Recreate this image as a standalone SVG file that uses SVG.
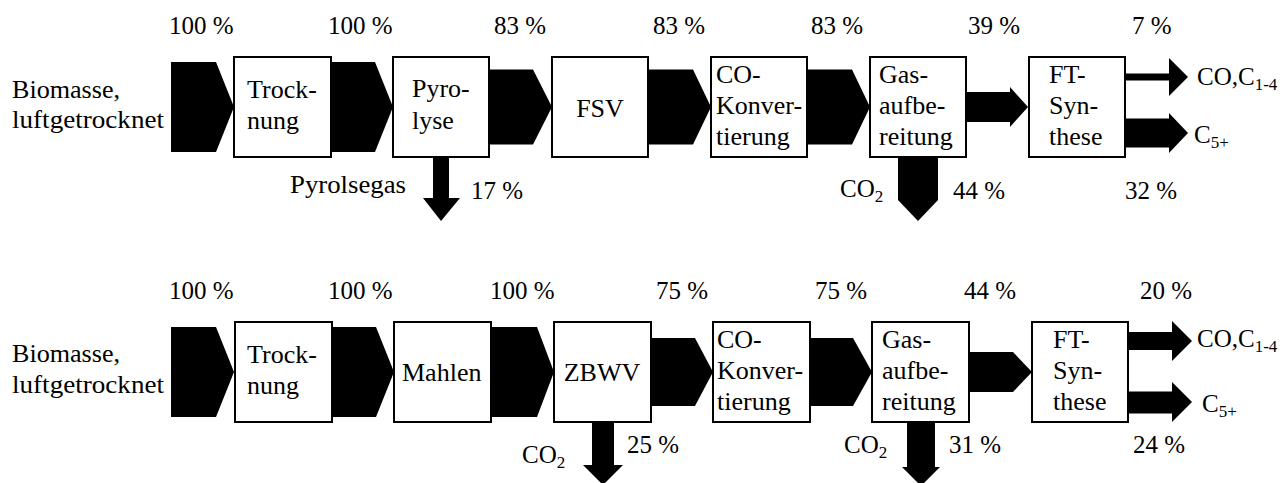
<svg xmlns="http://www.w3.org/2000/svg" width="1287" height="483" viewBox="0 0 1287 483" font-family="'Liberation Serif', 'Times New Roman', 'DejaVu Serif', serif">
<style>
text{font-family:"Liberation Serif","Times New Roman","DejaVu Serif",serif;font-size:25px;fill:#000}
.sub{font-size:17px}
.box{fill:#fff;stroke:#000;stroke-width:2}
.bt{font-size:26px}
.flow{fill:#000;stroke:none}
.c{text-anchor:middle}
</style>
<rect width="1287" height="483" fill="#fff"/>
<g id="connectors">
<polygon class="flow" points="171,62 216,62 234,107 216,152 171,152"/>
<polygon class="flow" points="331,62 375,62 393,107 375,152 331,152"/>
<polygon class="flow" points="489,69.5 533,69.5 552,107 533,144.5 489,144.5"/>
<polygon class="flow" points="648,69.5 693,69.5 711,107 693,144.5 648,144.5"/>
<polygon class="flow" points="807,69.5 852,69.5 870,107 852,144.5 807,144.5"/>
<polygon class="flow" points="966,92 1010,92 1010,87 1028,107 1010,127 1010,122 966,122"/>
<polygon class="flow" points="1125,73.5 1169,73.5 1169,58 1188,77 1169,96 1169,80.5 1125,80.5"/>
<polygon class="flow" points="1125,118.5 1169,118.5 1169,113 1188,133 1169,153 1169,147.5 1125,147.5"/>
<polygon class="flow" points="433,157 449,157 449,198 460,198 441,221 423,198 433,198"/>
<polygon class="flow" points="898,157 938,157 938,200 918,221 898,200"/>
<polygon class="flow" points="171,327 216,327 234,372 216,417 171,417"/>
<polygon class="flow" points="332,327 376,327 394,372 376,417 332,417"/>
<polygon class="flow" points="491,327 537,327 554,372 537,417 491,417"/>
<polygon class="flow" points="651,338 695,338 713,372 695,406 651,406"/>
<polygon class="flow" points="810,338 853,338 872,372 853,406 810,406"/>
<polygon class="flow" points="969,352 1013,352 1032,372 1013,392 969,392"/>
<polygon class="flow" points="1128,332 1172,332 1172,321 1192,341 1172,361 1172,350 1128,350"/>
<polygon class="flow" points="1128,391.5 1172,391.5 1172,382 1192,402 1172,422 1172,413.5 1128,413.5"/>
<polygon class="flow" points="592,422 614,422 614,465 623,465 603,485 583,465 592,465"/>
<polygon class="flow" points="907,422 935,422 935,467 940,467 921,486 902,467 907,467"/>
</g>
<g id="labels">
<text class="bt" x="12" y="98" textLength="108" lengthAdjust="spacingAndGlyphs">Biomasse,</text>
<text class="bt" x="12" y="128" textLength="152" lengthAdjust="spacingAndGlyphs">luftgetrocknet</text>
<text class="bt" x="12" y="362" textLength="108" lengthAdjust="spacingAndGlyphs">Biomasse,</text>
<text class="bt" x="12" y="393" textLength="152" lengthAdjust="spacingAndGlyphs">luftgetrocknet</text>
<text x="169" y="34">100 %</text>
<text x="328" y="34">100 %</text>
<text x="494" y="34">83 %</text>
<text x="653" y="34">83 %</text>
<text x="811" y="34">83 %</text>
<text x="968" y="34">39 %</text>
<text x="1132" y="34">7 %</text>
<text x="290" y="193" textLength="116" lengthAdjust="spacingAndGlyphs">Pyrolsegas</text>
<text x="471" y="199">17 %</text>
<text x="840" y="197">CO<tspan class="sub" dy="5">2</tspan></text>
<text x="953" y="199">44 %</text>
<text x="1125" y="199">32 %</text>
<text x="1197" y="85">CO,C<tspan class="sub" dy="5">1-4</tspan></text>
<text x="1194" y="143">C<tspan class="sub" dy="5">5+</tspan></text>
<text x="169" y="299">100 %</text>
<text x="328" y="299">100 %</text>
<text x="490" y="299">100 %</text>
<text x="656" y="299">75 %</text>
<text x="815" y="299">75 %</text>
<text x="964" y="299">44 %</text>
<text x="1140" y="299">20 %</text>
<text x="522" y="463">CO<tspan class="sub" dy="5">2</tspan></text>
<text x="627" y="453">25 %</text>
<text x="844" y="453">CO<tspan class="sub" dy="5">2</tspan></text>
<text x="949" y="453">31 %</text>
<text x="1133" y="453">24 %</text>
<text x="1197" y="347">CO,C<tspan class="sub" dy="5">1-4</tspan></text>
<text x="1202" y="412">C<tspan class="sub" dy="5">5+</tspan></text>
</g>
<g id="top-trocknung">
<rect class="box" x="234" y="57" width="97" height="100"/>
<text class="bt" x="247" y="97.5">Trock-</text>
<text class="bt" x="247" y="128.5">nung</text>
</g>
<g id="top-pyrolyse">
<rect class="box" x="393" y="57" width="96" height="100"/>
<text class="bt" x="412" y="96.5">Pyro-</text>
<text class="bt" x="412" y="129">lyse</text>
</g>
<g id="top-fsv">
<rect class="box" x="552" y="57" width="96" height="100"/>
<text class="bt c" x="600" y="117">FSV</text>
</g>
<g id="top-co-konvertierung">
<rect class="box" x="711" y="57" width="96" height="100"/>
<text class="bt" x="716" y="83">CO-</text>
<text class="bt" x="716" y="114">Konver-</text>
<text class="bt" x="716" y="145">tierung</text>
</g>
<g id="top-gasaufbereitung">
<rect class="box" x="870" y="57" width="96" height="100"/>
<text class="bt" x="879" y="83">Gas-</text>
<text class="bt" x="879" y="114">aufbe-</text>
<text class="bt" x="879" y="145">reitung</text>
</g>
<g id="top-ft-synthese">
<rect class="box" x="1029" y="57" width="96" height="100"/>
<text class="bt" x="1049" y="83">FT-</text>
<text class="bt" x="1049" y="114">Syn-</text>
<text class="bt" x="1049" y="145">these</text>
</g>
<g id="bottom-trocknung">
<rect class="box" x="235" y="322" width="97" height="100"/>
<text class="bt" x="247" y="362.5">Trock-</text>
<text class="bt" x="247" y="393.5">nung</text>
</g>
<g id="bottom-mahlen">
<rect class="box" x="394" y="322" width="97" height="100"/>
<text class="bt" x="402" y="381">Mahlen</text>
</g>
<g id="bottom-zbwv">
<rect class="box" x="554" y="322" width="97" height="100"/>
<text class="bt c" x="602" y="381">ZBWV</text>
</g>
<g id="bottom-co-konvertierung">
<rect class="box" x="713" y="322" width="97" height="100"/>
<text class="bt" x="717" y="348">CO-</text>
<text class="bt" x="717" y="379">Konver-</text>
<text class="bt" x="717" y="410">tierung</text>
</g>
<g id="bottom-gasaufbereitung">
<rect class="box" x="872" y="322" width="97" height="100"/>
<text class="bt" x="882" y="348">Gas-</text>
<text class="bt" x="882" y="379">aufbe-</text>
<text class="bt" x="882" y="410">reitung</text>
</g>
<g id="bottom-ft-synthese">
<rect class="box" x="1032" y="322" width="96" height="100"/>
<text class="bt" x="1053" y="348">FT-</text>
<text class="bt" x="1053" y="379">Syn-</text>
<text class="bt" x="1053" y="410">these</text>
</g>
</svg>
